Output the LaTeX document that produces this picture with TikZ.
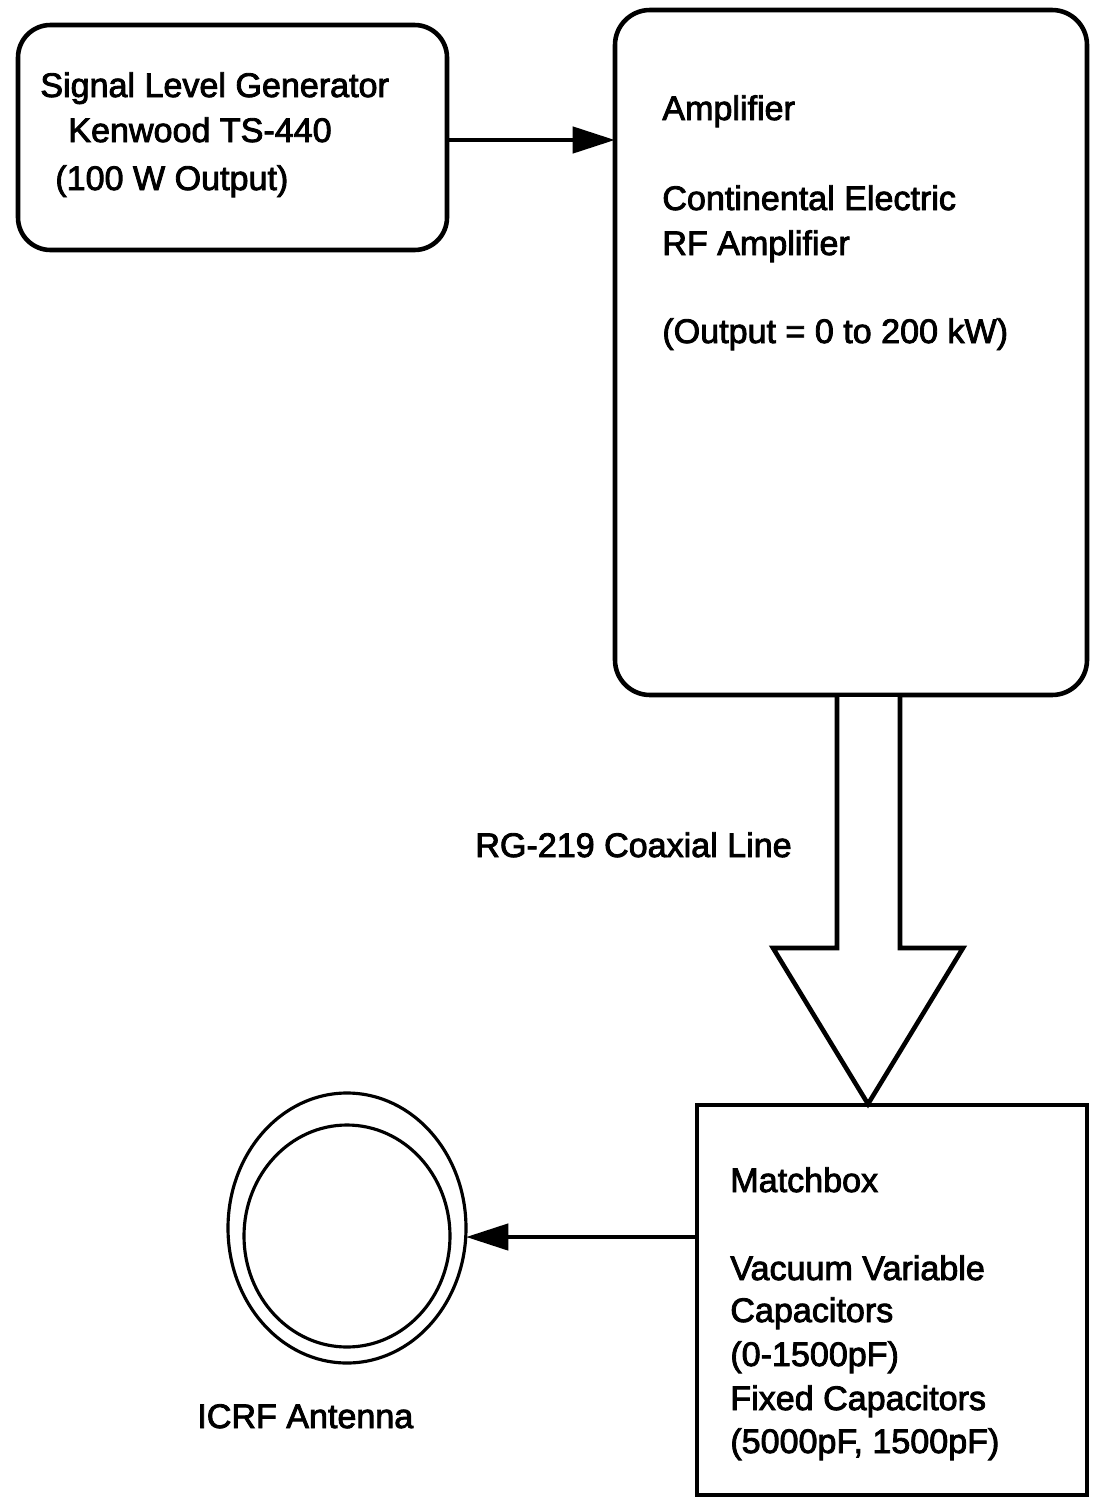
\documentclass[tikz,border=0pt]{standalone}
\usepackage{fontspec}
\setmainfont{Liberation Sans}
\newfontfamily\scanfont{Liberation Sans}[FakeBold=2.5]
\usetikzlibrary{arrows.meta}
\begin{document}
\begin{tikzpicture}[x=0.02cm,y=-0.02cm,
  boxline/.style={line width=2.6pt},
  lbl/.style={anchor=base west,inner sep=0pt,font=\scanfont\fontsize{19.4}{22}\selectfont},
  conn/.style={line width=2.8pt,-{Triangle[length=0.85cm,width=0.52cm]}}]
\useasboundingbox (0,0) rectangle (1094,1501);
% boxes
\draw[boxline,rounded corners=0.65cm] (18,25) rectangle (447,250);
\coordinate (genE) at (447,140);
\draw[boxline,rounded corners=0.7cm] (615,10) rectangle (1087,695);
\coordinate (ampW) at (615,140);
\draw[boxline] (697,1105) rectangle (1087,1495);
\coordinate (mbW) at (697,1237);
% antenna
\draw[line width=1.8pt] (347,1228) ellipse [x radius=119, y radius=135];
\draw[line width=1.8pt] (347,1236) ellipse [x radius=103, y radius=111];
\coordinate (antE) at (466,1237);
% connectors
\draw[conn] (genE) -- (ampW);
\draw[conn] (mbW) -- (antE);
% big hollow arrow
\draw[boxline,line join=miter,fill=white] (837,697) -- (837,948) -- (773,948) -- (868,1104) -- (963,948) -- (900,948) -- (900,697);
% texts
\node[lbl] (t1) at (40,97) {Signal Level Generator};
\node[lbl] (t2) at (68,142) {Kenwood TS-440};
\node[lbl] (t3) at (55,190) {(100 W Output)};
\node[lbl] (a1) at (662,120) {Amplifier};
\node[lbl] (a2) at (662,210) {Continental Electric};
\node[lbl] (a3) at (662,255) {RF Amplifier};
\node[lbl] (a4) at (662,343) {(Output = 0 to 200 kW)};
\node[lbl] (rg) at (475,857) {RG-219 Coaxial Line};
\node[lbl] (m1) at (730,1192) {Matchbox};
\node[lbl] (m2) at (730,1280) {Vacuum Variable};
\node[lbl] (m3) at (730,1322) {Capacitors};
\node[lbl] (m4) at (730,1366) {(0-1500pF)};
\node[lbl] (m5) at (730,1410) {Fixed Capacitors};
\node[lbl] (m6) at (730,1453) {(5000pF, 1500pF)};
\node[lbl] (ic) at (197,1428) {ICRF Antenna};
\end{tikzpicture}
\end{document}
